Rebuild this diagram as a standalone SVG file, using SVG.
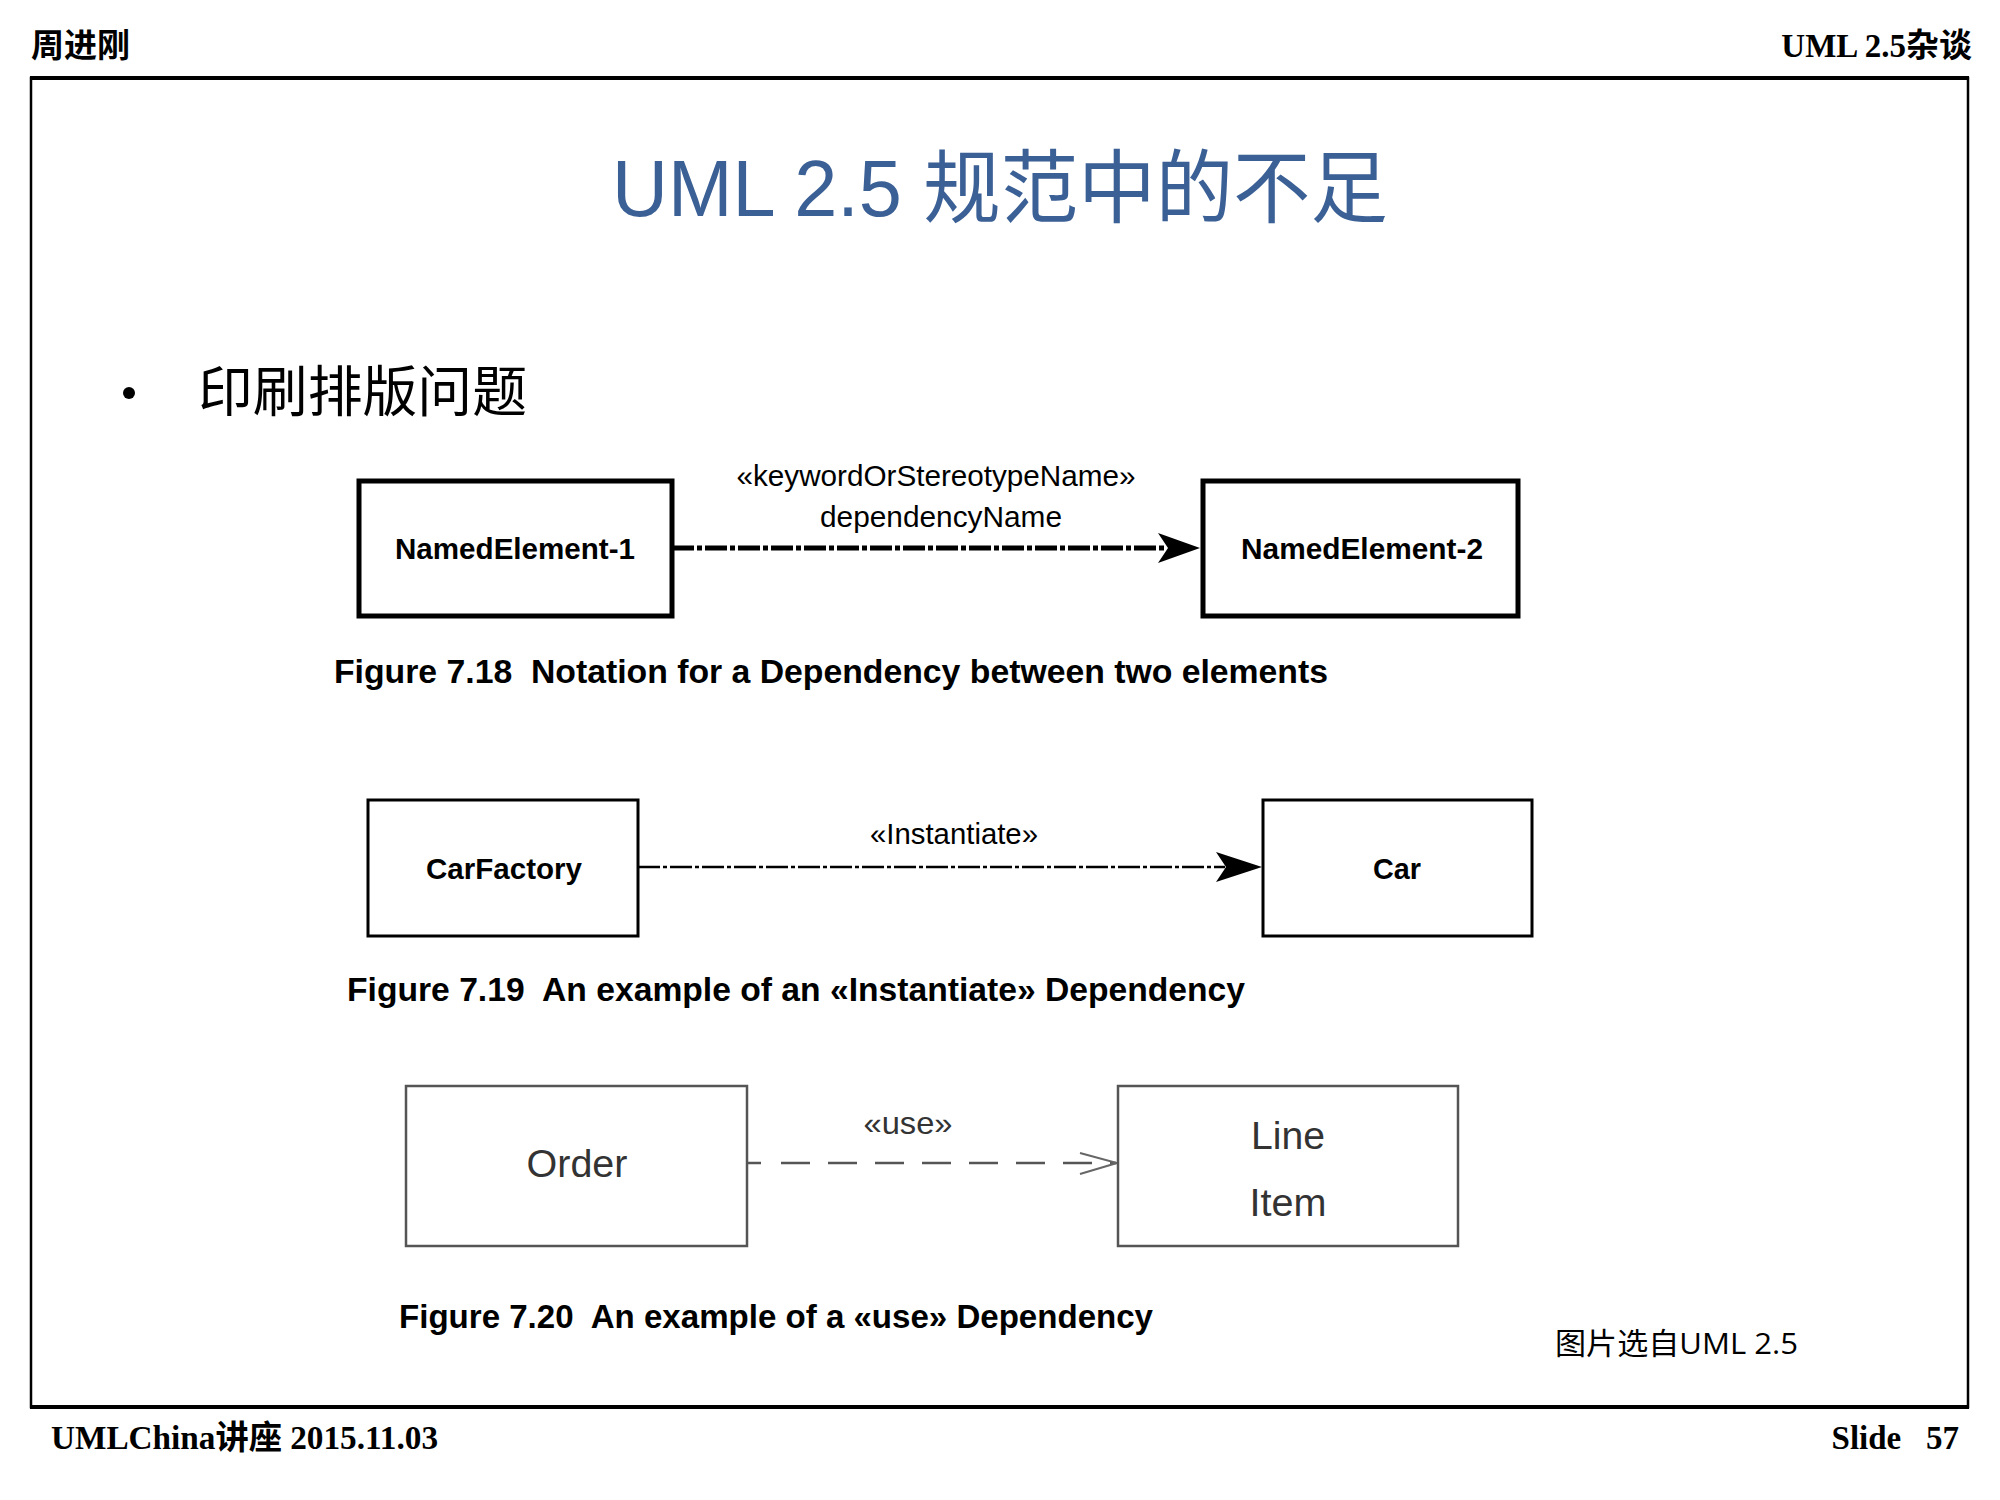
<svg xmlns="http://www.w3.org/2000/svg" width="2000" height="1500" viewBox="0 0 2000 1500">
<defs>
<style>
.hdr{font-family:"Liberation Serif","Noto Sans CJK SC",serif;font-weight:bold;font-size:33px;fill:#000}
.title{font-family:"Liberation Sans","Noto Sans CJK SC",sans-serif;font-size:80px;fill:#3B6096}
.bullet{font-family:"Liberation Serif","Noto Sans CJK SC",serif;font-size:55px;fill:#000}
.nb{font-family:"Liberation Sans",Arial,sans-serif;font-weight:bold;font-size:30px;fill:#000;text-anchor:middle}
.lbl{font-family:"Liberation Sans",Arial,sans-serif;font-size:30px;fill:#000;text-anchor:middle}
.cap{font-family:"Liberation Sans",Arial,sans-serif;font-weight:bold;font-size:34px;fill:#000}
.use{font-family:"Liberation Sans",Arial,sans-serif;font-size:39px;fill:#333;text-anchor:middle}
.src{font-family:"Open Sans","Noto Sans CJK SC",sans-serif;font-size:30px;fill:#000}
.b1{fill:#fff;stroke:#000;stroke-width:5}
.b2{fill:#fff;stroke:#000;stroke-width:3}
.b3{fill:#fff;stroke:#555;stroke-width:2.5}
</style>
</defs>
<rect width="2000" height="1500" fill="#fff"/>
<!-- header/footer -->
<text class="hdr" x="31" y="57" textLength="99" lengthAdjust="spacingAndGlyphs">周进刚</text>
<text class="hdr" x="1972" y="57" text-anchor="end">UML 2.5杂谈</text>
<rect x="31" y="78" width="1937" height="1329" fill="none" stroke="#000" stroke-width="2.5"/>
<line x1="30" y1="78" x2="1969" y2="78" stroke="#000" stroke-width="4"/>
<line x1="30" y1="1407" x2="1969" y2="1407" stroke="#000" stroke-width="4"/>
<text class="hdr" x="51" y="1449" textLength="387" lengthAdjust="spacingAndGlyphs">UMLChina讲座 2015.11.03</text>
<text class="hdr" x="1959" y="1449" text-anchor="end" xml:space="preserve">Slide   57</text>
<!-- title -->
<text class="title" x="1000" y="216" text-anchor="middle" textLength="776" lengthAdjust="spacingAndGlyphs">UML 2.5 规范中的不足</text>
<circle cx="129" cy="393" r="6" fill="#000"/>
<text class="bullet" x="198" y="411" textLength="329" lengthAdjust="spacingAndGlyphs">印刷排版问题</text>

<!-- connectors -->
<g id="connectors">
<line x1="672" y1="548" x2="1165" y2="548" stroke="#000" stroke-width="5" stroke-dasharray="22 3 5 3"/>
<path d="M1200,548 L1158,533 L1168,548 L1158,563 Z" fill="#000"/>
<line x1="638" y1="867" x2="1225" y2="867" stroke="#000" stroke-width="2.5" stroke-dasharray="22 3 4 3"/>
<path d="M1262,867 L1216,852 L1226,867 L1216,882 Z" fill="#000"/>
<line x1="747" y1="1163" x2="1116" y2="1163" stroke="#555" stroke-width="2.5" stroke-dasharray="14 20 29 18 29 18 29 18 29 18 29 18 29 18 29 18"/>
<path d="M1080,1153 L1117,1163 L1080,1174" fill="none" stroke="#666" stroke-width="2"/>
<text class="lbl" x="936" y="486" textLength="399" lengthAdjust="spacingAndGlyphs">«keywordOrStereotypeName»</text>
<text class="lbl" x="941" y="527" textLength="242" lengthAdjust="spacingAndGlyphs">dependencyName</text>
<text class="lbl" x="954" y="844" textLength="168" lengthAdjust="spacingAndGlyphs">«Instantiate»</text>
<text class="use" x="908" y="1134" style="font-size:32px" textLength="89" lengthAdjust="spacingAndGlyphs">«use»</text>
</g>

<!-- Figure 7.18 -->
<g id="ne1"><rect class="b1" x="359" y="481" width="313" height="135"/><text class="nb" x="515" y="559" textLength="240" lengthAdjust="spacingAndGlyphs">NamedElement-1</text></g>
<g id="ne2"><rect class="b1" x="1203" y="481" width="315" height="135"/><text class="nb" x="1362" y="559" textLength="242" lengthAdjust="spacingAndGlyphs">NamedElement-2</text></g>
<text class="cap" x="334" y="683" xml:space="preserve" textLength="994" lengthAdjust="spacingAndGlyphs">Figure 7.18  Notation for a Dependency between two elements</text>

<!-- Figure 7.19 -->
<g id="carfactory"><rect class="b2" x="368" y="800" width="270" height="136"/><text class="nb" x="504" y="879" textLength="156" lengthAdjust="spacingAndGlyphs">CarFactory</text></g>
<g id="car"><rect class="b2" x="1263" y="800" width="269" height="136"/><text class="nb" x="1397" y="879" textLength="48" lengthAdjust="spacingAndGlyphs">Car</text></g>
<text class="cap" x="347" y="1001" xml:space="preserve" textLength="898" lengthAdjust="spacingAndGlyphs">Figure 7.19  An example of an «Instantiate» Dependency</text>

<!-- Figure 7.20 -->
<g id="order"><rect class="b3" x="406" y="1086" width="341" height="160"/><text class="use" x="577" y="1177" textLength="101" lengthAdjust="spacingAndGlyphs">Order</text></g>
<g id="lineitem"><rect class="b3" x="1118" y="1086" width="340" height="160"/><text class="use" x="1288" y="1149" textLength="74" lengthAdjust="spacingAndGlyphs">Line</text><text class="use" x="1288" y="1216" textLength="77" lengthAdjust="spacingAndGlyphs">Item</text></g>
<text class="cap" x="399" y="1328" xml:space="preserve" textLength="754" lengthAdjust="spacingAndGlyphs">Figure 7.20  An example of a «use» Dependency</text>

<text class="src" x="1555" y="1354" textLength="243" lengthAdjust="spacingAndGlyphs">图片选自UML 2.5</text>
</svg>
